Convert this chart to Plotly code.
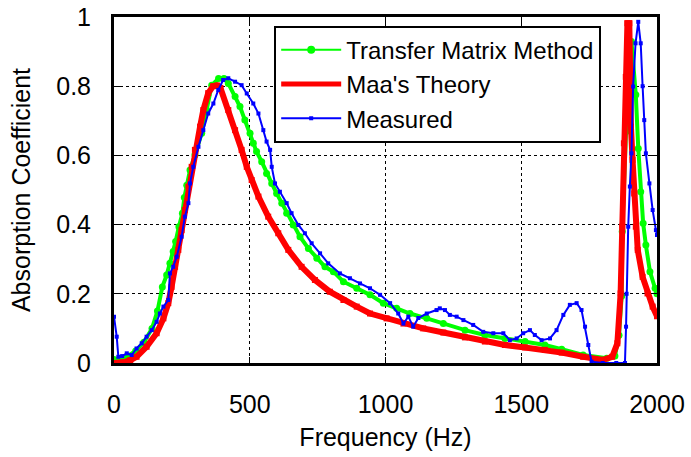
import plotly.graph_objects as go

# ---------------- data ----------------
tmm_freq = [0, 20, 50, 80, 110, 140, 160, 178, 194, 206, 218, 227, 239, 252, 259, 268, 280,
            298, 323, 341, 360, 385, 405, 421, 446, 464, 482, 501, 513, 525, 544, 562, 581,
            599, 618, 636, 660, 685, 716, 747, 777, 808, 845, 894, 943, 992, 1041, 1090,
            1152, 1213, 1293, 1366, 1440, 1514, 1587, 1649, 1728, 1815, 1845, 1860, 1870,
            1872, 1886, 1906, 1922, 1931, 1940, 1949, 1959, 1974, 1993, 2000]
tmm_alpha = [0.01, 0.012, 0.02, 0.035, 0.06, 0.1, 0.15, 0.22, 0.254, 0.288, 0.322, 0.351,
             0.394, 0.433, 0.478, 0.514, 0.558, 0.601, 0.664, 0.731, 0.803, 0.822, 0.822,
             0.808, 0.77, 0.741, 0.702, 0.664, 0.635, 0.611, 0.582, 0.548, 0.519, 0.49,
             0.462, 0.433, 0.399, 0.365, 0.331, 0.303, 0.278, 0.264, 0.235, 0.216, 0.197,
             0.173, 0.158, 0.143, 0.129, 0.114, 0.095, 0.081, 0.071, 0.062, 0.052, 0.04,
             0.023, 0.014, 0.02, 0.08, 0.194, 0.38, 0.669, 0.929, 0.775, 0.62, 0.495, 0.404,
             0.341, 0.264, 0.216, 0.2]

maa_freq = [0, 20, 34, 60, 83, 120, 157, 182, 200, 212, 225, 237, 249, 261, 274, 286, 298,
            317, 329, 347, 365, 380, 392, 421, 446, 470, 489, 507, 532, 568, 605, 642, 691,
            740, 795, 845, 894, 943, 1004, 1066, 1139, 1213, 1293, 1366, 1440, 1514, 1587,
            1649, 1728, 1801, 1835, 1854, 1866, 1872, 1878, 1885, 1891, 1898, 1900, 1904,
            1910, 1916, 1922, 1929, 1947, 1965, 1984, 2000]
maa_alpha = [0.0, 0.0, 0.002, 0.008, 0.018, 0.047, 0.086, 0.129, 0.173, 0.22, 0.278, 0.327,
             0.384, 0.442, 0.51, 0.567, 0.616, 0.683, 0.731, 0.78, 0.8, 0.802, 0.795, 0.731,
             0.673, 0.616, 0.567, 0.529, 0.481, 0.423, 0.375, 0.327, 0.278, 0.24, 0.206,
             0.182, 0.163, 0.143, 0.129, 0.114, 0.1, 0.088, 0.074, 0.062, 0.052, 0.045,
             0.038, 0.03, 0.018, 0.009, 0.018, 0.057, 0.201, 0.394, 0.635, 0.827, 0.982,
             0.982, 0.827, 0.683, 0.587, 0.49, 0.394, 0.327, 0.249, 0.201, 0.163, 0.135]

meas_freq = [0, 10, 16, 30, 47, 65, 83, 102, 120, 139, 157, 169, 182, 200, 206, 218, 231,
             249, 261, 274, 280, 292, 311, 329, 347, 366, 384, 402, 421, 446, 470, 489, 513,
             532, 550, 562, 575, 581, 593, 611, 636, 654, 679, 703, 728, 759, 789, 832, 869,
             906, 943, 980, 1017, 1047, 1066, 1084, 1102, 1121, 1152, 1188, 1200, 1219, 1237,
             1262, 1287, 1323, 1360, 1397, 1434, 1458, 1483, 1507, 1532, 1550, 1575, 1606,
             1630, 1655, 1679, 1704, 1722, 1735, 1747, 1759, 1800, 1850, 1882, 1886, 1888,
             1894, 1900, 1906, 1912, 1921, 1931, 1940, 1947, 1953, 1959, 1972, 1984, 1996, 2000]
meas_alpha = [0.134, 0.076, 0.018, 0.02, 0.028, 0.023, 0.042, 0.057, 0.076, 0.095, 0.119,
              0.143, 0.163, 0.182, 0.259, 0.278, 0.307, 0.365, 0.423, 0.462, 0.519, 0.567,
              0.625, 0.673, 0.721, 0.75, 0.789, 0.818, 0.823, 0.813, 0.803, 0.779, 0.75,
              0.721, 0.673, 0.64, 0.616, 0.567, 0.519, 0.495, 0.462, 0.433, 0.399, 0.375,
              0.346, 0.317, 0.288, 0.259, 0.245, 0.23, 0.216, 0.197, 0.173, 0.143, 0.114,
              0.134, 0.105, 0.13, 0.143, 0.153, 0.158, 0.153, 0.139, 0.134, 0.124, 0.11, 0.09,
              0.086, 0.086, 0.066, 0.071, 0.086, 0.095, 0.081, 0.066, 0.071, 0.095, 0.139,
              0.168, 0.173, 0.153, 0.105, 0.052, 0.004, 0.0, 0.0, 0.0, 0.105, 0.2, 0.394,
              0.51, 0.606, 0.799, 0.924, 0.986, 0.924, 0.8, 0.702, 0.606, 0.519, 0.442,
              0.384, 0.37]

series_names = ["Transfer Matrix Method", "Maa's Theory", "Measured"]
x_ticks = [0, 500, 1000, 1500, 2000]
y_ticks = [0, 0.2, 0.4, 0.6, 0.8, 1]

GREEN = "#00ff00"
RED = "#ff0000"
BLUE = "#0000ff"
FONT = "Liberation Sans, Arial, sans-serif"

fig = go.Figure()

# visible curves (legend handled by proxy traces below)
fig.add_trace(go.Scatter(x=tmm_freq, y=tmm_alpha, mode="lines+markers", showlegend=False,
                         line=dict(color=GREEN, width=4),
                         marker=dict(color=GREEN, size=7, symbol="circle")))
fig.add_trace(go.Scatter(x=maa_freq, y=maa_alpha, mode="lines+markers", showlegend=False,
                         line=dict(color=RED, width=6),
                         marker=dict(color=RED, size=6, symbol="square")))
fig.add_trace(go.Scatter(x=meas_freq, y=meas_alpha, mode="lines+markers", showlegend=False,
                         line=dict(color=BLUE, width=2),
                         marker=dict(color=BLUE, size=4, symbol="square")))

# legend proxies
fig.add_trace(go.Scatter(x=[None], y=[None], mode="lines+markers", name=series_names[0],
                         line=dict(color=GREEN, width=2), marker=dict(color=GREEN, size=8)))
fig.add_trace(go.Scatter(x=[None], y=[None], mode="lines+markers", name=series_names[1],
                         line=dict(color=RED, width=5), marker=dict(color=RED, size=4, symbol="square")))
fig.add_trace(go.Scatter(x=[None], y=[None], mode="lines+markers", name=series_names[2],
                         line=dict(color=BLUE, width=2), marker=dict(color=BLUE, size=4, symbol="square")))

axis_common = dict(showline=True, linecolor="black", linewidth=3, mirror="ticks",
                   ticks="inside", ticklen=6, tickwidth=1, tickcolor="black",
                   showgrid=True, gridcolor="black", gridwidth=1, griddash="dot",
                   zeroline=False, automargin=False,
                   tickfont=dict(family=FONT, size=25, color="black"))

fig.update_xaxes(range=[0, 2000], tickvals=x_ticks, ticklabelstandoff=17,
                 title=dict(text="Frequency (Hz)", font=dict(family=FONT, size=25, color="black"),
                            standoff=12),
                 **axis_common)
fig.update_yaxes(range=[0, 1], tickvals=y_ticks, ticktext=[f"{v:g}" for v in y_ticks],
                 ticklabelstandoff=15,
                 title=dict(text="Absorption Coefficient", font=dict(family=FONT, size=25, color="black"),
                            standoff=19),
                 **axis_common)

fig.update_layout(
    width=691, height=457,
    margin=dict(l=114, r=34, t=17, b=94),
    paper_bgcolor="white", plot_bgcolor="white",
    font=dict(family=FONT, color="black"),
    legend=dict(x=0.295, y=0.975, xanchor="left", yanchor="top",
                bgcolor="white", bordercolor="black", borderwidth=2,
                font=dict(family=FONT, size=24, color="black"),
                itemwidth=60, tracegroupgap=0),
)

# remove the browser's default 8px page margin so the figure sits at the window origin
fig.write_html("out.html", config={"displayModeBar": False},
               post_script="document.body.style.margin='0px';")
